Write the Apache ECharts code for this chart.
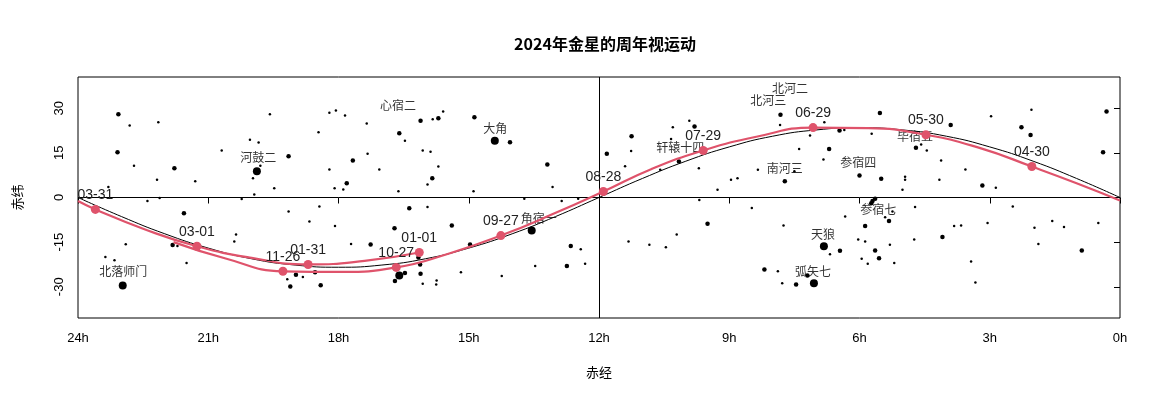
<!DOCTYPE html>
<html><head><meta charset="utf-8">
<script src="https://cdn.jsdelivr.net/npm/echarts@6/dist/echarts.min.js"></script>
<style>html,body{margin:0;padding:0;background:#fff}#c{width:1161px;height:415px}</style>
</head><body><div id="c"></div>
<script>
// Ecliptic (RA h, Dec deg)
const eclRA  = [0,1,2,3,4,5,6,7,8,9,10,11,12,13,14,15,16,17,18,19,20,21,22,23,24];
const eclDec = [0,6.4,12.2,17.0,20.6,22.7,23.44,22.7,20.6,17.0,12.2,6.4,0,-6.4,-12.2,-17.0,-20.6,-22.7,-23.44,-22.7,-20.6,-17.0,-12.2,-6.4,0];
// Venus path 2024 (two segments split at 0h/24h)
const venusA_RA  = [16.14,17.4,18.7,20.0,21.26,22.5,23.6,24.0];
const venusA_Dec = [-18.5,-21.3,-22.5,-20.3,-16.4,-10.5,-4.0,-1.2];
const venusB_RA  = [0.0,1.0,2.03,3.2,4.47,5.8,7.07,8.35,9.6,10.8,11.9,13.05,14.26,15.45,16.67,17.95,19.28,20.6,21.8];
const venusB_Dec = [-1.0,4.8,10.4,16.5,21.1,23.3,23.5,20.5,15.8,9.5,2.0,-5.5,-12.8,-18.8,-23.5,-25.0,-24.8,-20.5,-15.0];
// Dated markers
const dateLabels = ['01-01','01-31','03-01','03-31','04-30','05-30','06-29','07-29','08-28','09-27','10-27','11-26'];
const dateRA     = [16.14,18.7,21.26,23.6,2.03,4.47,7.07,9.6,11.9,14.26,16.67,19.28];
const dateDec    = [-18.5,-22.5,-16.4,-4.0,10.4,21.1,23.5,15.8,2.0,-12.8,-23.5,-24.8];
// Stars: RA, Dec, size class (1 small, 2 medium, 3 bright)
const starRA = [23.07,22.81,22.15,23.09,22.71,21.78,22.18,21.3,22.12,22.4,23.3,21.56,22.9,23.37,23.16,21.5,22.97,21.82,21.71,20.69,20.04,19.84,19.88,19.8,19.97,19.94,19.48,19.58,19.15,20.36,20.4,20.23,19.15,18.67,18.44,18.08,18.46,18.21,18.06,17.85,18.21,17.67,18.09,17.89,17.81,17.35,17.33,17.06,17.71,17.26,16.71,16.37,15.95,16.6,16.47,16.11,15.83,15.7,15.59,16.06,15.88,15.7,15.84,15.95,16.62,14.87,14.4,14.05,13.19,13.07,14.89,13.72,12.86,12.48,15.39,14.97,13.55,12.65,12.42,12.32,12.74,13.47,14.24,15.18,15.74,15.75,16.06,16.11,16.12,16.47,16.6,16.7,18.54,18.98,18.82,19.11,18.41,19.18,16.16,
11.82,11.25,11.26,11.4,10.3,9.92,9.8,10.34,10.16,10.59,9.7,8.96,8.81,9.27,9.69,8.48,9.5,10.21,11.32,10.84,10.46,7.82,7.83,8.34,7.72,7.5,7.39,7.14,6.81,6.46,6.35,6.7,6.83,5.53,5.72,6.0,5.5,6.33,7.75,6.82,6.45,6.68,5.87,6.03,5.87,5.64,5.55,5.95,5.81,5.3,5.2,7.88,8.19,7.2,7.78,7.46,7.05,5.7,5.64,5.73,5.32,5.24,5.41,4.7,4.58,4.45,3.9,4.12,4.95,4.95,5.01,4.16,3.56,4.72,4.74,4.09,3.82,3.66,3.43,3.33,3.17,2.86,3.05,2.97,2.47,2.27,2.06,2.04,1.97,1.88,1.56,1.29,0.88,0.5,0.39,0.31];
const starDec = [28.0,24.2,25.3,15.2,10.7,9.8,6.0,5.5,-0.2,-1.2,3.5,-5.3,-15.7,-20.0,-21.1,-22.0,-29.6,-16.0,-16.3,15.8,19.4,18.5,8.8,10.7,6.5,1.0,3.1,28.0,13.9,-12.4,-14.8,-0.5,-4.7,-8.1,-3.0,-9.6,21.9,28.5,29.2,27.6,9.4,12.4,3.1,2.7,4.8,24.9,14.7,9.4,-15.6,-15.8,-10.3,-3.6,-3.2,21.6,19.1,25.8,26.3,26.6,28.9,15.8,15.4,10.4,6.5,4.4,2.1,27.0,19.1,18.6,11.1,3.5,2.1,-0.4,-1.2,-0.4,-9.4,-15.8,-11.1,-16.3,-17.4,-22.3,-23.0,-23.0,-26.4,-25.1,-27.9,-29.2,-29.0,-25.6,-22.5,-25.4,-26.2,-28.1,-25.1,-26.0,-26.7,-29.9,-29.5,-27.5,-20.2,
14.7,20.6,15.6,10.5,23.6,25.8,23.9,19.7,12.1,9.3,9.8,6.0,6.5,2.6,-0.8,-3.5,-8.8,-12.4,-14.8,-15.9,-16.7,27.8,24.4,9.3,5.5,8.8,16.3,20.8,25.3,22.5,22.7,16.3,12.8,28.4,21.4,7.4,6.3,-6.4,-9.4,-16.4,-17.9,-19.1,-9.6,-14.1,-14.8,-17.8,-20.4,-20.6,-22.3,-15.9,-22.0,-24.8,-24.2,-26.2,-28.8,-29.2,-28.8,-1.2,-0.4,-1.9,-7.9,-4.7,-6.6,16.7,17.8,15.8,24.4,12.4,7.0,6.0,2.6,6.0,9.4,-3.2,-14.1,-13.3,-9.6,-9.4,-21.5,-28.6,4.0,3.3,-8.6,27.3,-3.0,23.6,21.0,29.5,-10.2,-15.6,-7.9,-9.9,-17.8,-8.6,15.2,28.9];
const starSize = [2,1,1,2,1,2,1,1,1,1,1,2,1,1,1,1,3,2,1,1,1,1,3,1,1,1,1,1,2,1,1,1,1,1,1,1,1,1,1,1,1,2,1,1,2,1,1,1,1,2,2,2,1,2,1,2,1,2,1,1,1,1,2,1,1,2,3,2,2,1,1,1,1,1,2,2,3,2,1,1,2,1,1,1,1,1,1,2,2,2,3,2,2,2,1,2,2,1,2,
2,2,1,1,1,1,2,1,2,1,1,1,1,1,1,1,2,1,1,1,1,2,1,1,2,1,1,1,1,2,1,2,1,2,1,2,2,1,1,3,2,1,2,1,1,2,2,1,1,1,1,1,2,2,1,2,3,2,2,2,2,1,1,2,1,1,2,1,1,1,1,1,1,1,1,2,1,1,1,1,2,1,1,1,1,2,2,1,1,1,1,1,2,1,2,2];
// Star names: label anchor (RA, Dec)
const starNames = ['心宿二','河鼓二','大角','北落师门','角宿一','北河二','北河三','轩辕十四','南河三','参宿四','毕宿五','参宿七','天狼','弧矢七'];
const nameRA  = [16.63,19.85,14.39,22.96,13.39,7.6,8.1,10.13,7.72,6.03,4.72,5.57,6.84,7.07];
const nameDec = [30.9,13.4,23.2,-24.8,-7.0,36.6,32.6,16.8,9.7,11.7,20.5,-4.0,-12.4,-24.8];

const RED = '#DF536B';
const F = 'Liberation Sans, Arial, sans-serif';
const CJK = '"Noto Sans CJK SC", sans-serif';
const zip = (a,b)=>a.map((v,i)=>[v,b[i]]);
const sizeMap = {1:2.5,2:4.5,3:8};

const chart = echarts.init(document.getElementById('c'));
chart.setOption({
  animation:false,
  title:{text:'2024年金星的周年视运动',left:600,top:31,textAlign:'center',
    textStyle:{fontFamily:CJK,fontSize:16,fontWeight:'bold',color:'#000'}},
  grid:{left:78,right:41,top:77,bottom:97,show:true,borderColor:'#000',borderWidth:1},
  xAxis:{type:'value',min:0,max:24,inverse:true,interval:3,
    name:'赤经',nameLocation:'middle',nameGap:48,nameTextStyle:{fontFamily:CJK,fontSize:13,color:'#000'},
    axisLine:{show:false},splitLine:{show:false},
    axisTick:{show:true,length:6,lineStyle:{color:'#000'}},
    axisLabel:{formatter:v=>v+'h',fontFamily:F,fontSize:13,color:'#000',margin:14}},
  yAxis:{type:'value',min:-40.5,max:40.5,
    name:'赤纬',nameLocation:'middle',nameGap:54,nameRotate:90,nameTextStyle:{fontFamily:CJK,fontSize:13,color:'#000'},
    axisLine:{show:false},splitLine:{show:false},
    axisTick:{show:true,length:6,customValues:[-30,-15,0,15,30],lineStyle:{color:'#000'}},
    axisLabel:{customValues:[-30,-15,0,15,30],rotate:90,fontFamily:F,fontSize:13,color:'#000',margin:12}},
  series:[
    {type:'scatter',data:zip(starRA,starDec).map((p,i)=>({value:p,symbolSize:sizeMap[starSize[i]]})),
      itemStyle:{color:'#000',opacity:1},silent:true,z:2,
      markLine:{silent:true,symbol:'none',label:{show:false},lineStyle:{color:'#000',width:1,type:'solid'},
        data:[{yAxis:0},{xAxis:12}]}},
    {type:'scatter',data:zip(nameRA,nameDec).map((p,i)=>({value:p,name:starNames[i]})),symbolSize:0,
      label:{show:true,position:'inside',formatter:'{b}',fontFamily:CJK,fontSize:12,color:'#000'},z:3},
    {type:'line',data:zip(eclRA,eclDec),smooth:true,showSymbol:false,lineStyle:{color:'#000',width:1},z:4},
    {type:'line',data:zip(venusA_RA,venusA_Dec),smooth:true,showSymbol:false,lineStyle:{color:RED,width:2.2},z:5},
    {type:'line',data:zip(venusB_RA,venusB_Dec),smooth:true,showSymbol:false,lineStyle:{color:RED,width:2.2},z:5},
    {type:'scatter',data:zip(dateRA,dateDec).map((p,i)=>({value:p,name:dateLabels[i]})),symbolSize:9,
      itemStyle:{color:RED,opacity:1},z:6,
      label:{show:true,position:'top',distance:3,formatter:'{b}',fontFamily:F,fontSize:14,color:'#222'}}
  ]
});
</script></body></html>
